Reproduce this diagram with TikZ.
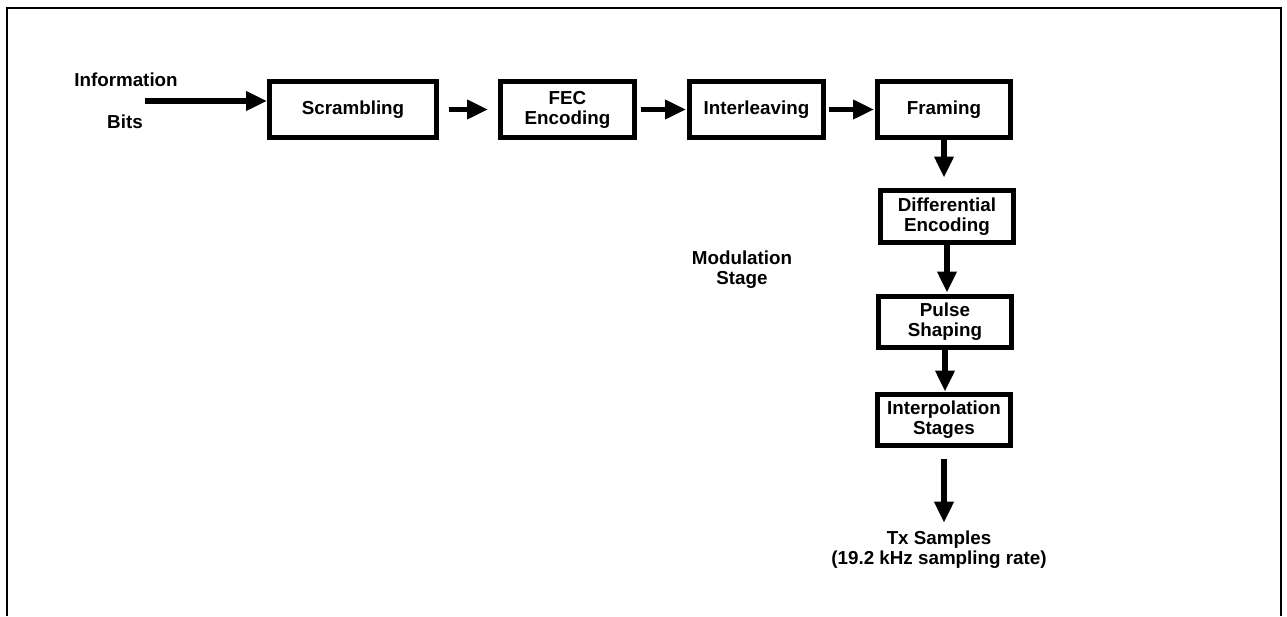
\documentclass[tikz,border=0pt]{standalone}
\usepackage{fontspec}
\setmainfont{Liberation Sans}
\usetikzlibrary{arrows.meta, positioning}

\tikzset{
  block/.style={draw, line width=3pt, font=\bfseries\fontsize{10.7}{11.4}\selectfont, align=center, inner sep=0pt, minimum height=1.11cm},
  flow/.style={line width=3.4pt, -{Triangle[length=12pt, width=10.5pt]}},
  lbl/.style={font=\bfseries\fontsize{10.7}{11.4}\selectfont, align=center, inner sep=0pt}
}

\begin{document}
\begin{tikzpicture}
\useasboundingbox (0,0) rectangle (25.74,12.32);
\draw[line width=1.1pt] (0.14,0) -- (0.14,12.16) -- (25.62,12.16) -- (25.62,0);

\node[lbl] (infotop) at (2.52,10.72) {Information};
\node[lbl] (infobot) at (2.5,9.88) {Bits};
\coordinate (bitsin) at (2.9,10.30);

\node[block, minimum width=3.33cm] (scr) at (7.06,10.13) {Scrambling};
\node[block, minimum width=2.67cm] (fec) at (11.35,10.13) {FEC\\Encoding};
\node[block, minimum width=2.67cm] (intl) at (15.13,10.13) {Interleaving};
\node[block, minimum width=2.65cm] (frm) at (18.88,10.13) {Framing};

\node[block, minimum width=2.65cm, minimum height=1.05cm] (diff) at (18.94,7.99) {Differential\\Encoding};
\node[block, minimum width=2.65cm, minimum height=1.03cm] (pulse) at (18.90,5.88) {Pulse\\Shaping};
\node[block, minimum width=2.65cm, minimum height=1.03cm] (interp) at (18.88,3.92) {Interpolation\\Stages};

\node[lbl] (modst) at (14.84,6.92) {Modulation\\Stage};
\node[lbl] (tx) at (18.78,1.32) {Tx Samples\\(19.2 kHz sampling rate)};

\draw[flow] (bitsin) -- (bitsin -| scr.west);
\draw[flow, shorten <=0.2cm, shorten >=0.2cm] (scr.east) -- (fec.west);
\draw[flow, shorten <=0.08cm, shorten >=0.02cm] (fec.east) -- (intl.west);
\draw[flow, shorten <=0.06cm, shorten >=0.02cm] (intl.east) -- (frm.west);

\draw[flow, shorten >=0.2cm] (frm.south) -- (frm.south |- diff.north);
\draw[flow, shorten >=0.02cm] (diff.south) -- (diff.south |- pulse.north);
\draw[flow] (pulse.south) -- (pulse.south |- interp.north);
\draw[flow, shorten <=0.22cm, shorten >=0.16cm] (interp.south) -- (interp.south |- tx.north);
\end{tikzpicture}
\end{document}
